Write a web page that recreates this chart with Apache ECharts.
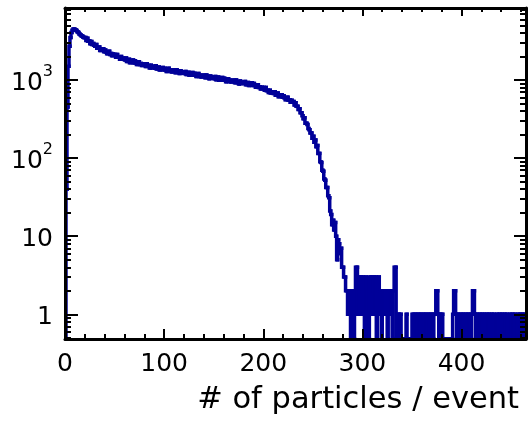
<!DOCTYPE html>
<html><head><meta charset="utf-8">
<script src="https://cdn.jsdelivr.net/npm/echarts@6/dist/echarts.min.js"></script>
<style>html,body{margin:0;padding:0;background:#fff}#c{width:530px;height:425px}</style>
</head><body><div id="c"></div>
<script>
// Histogram: bins of width 1 starting at 0
const binStart = 0;
const binWidth = 1;
const counts = [
0, 40, 450, 1500, 2700, 3500, 4050, 4350, 4500, 4480,
4400, 4300, 4150, 4060, 3890, 3810, 3680, 3640, 3520, 3490,
3500, 3200, 3420, 3130, 3160, 2910, 3120, 2840, 2940, 2790,
2700, 2840, 2550, 2630, 2650, 2380, 2520, 2410, 2520, 2300,
2430, 2290, 2170, 2320, 2330, 2120, 2180, 2050, 2150, 2090,
2120, 1960, 2120, 1950, 1990, 1850, 2000, 1840, 1920, 1840,
1800, 1910, 1730, 1800, 1840, 1670, 1780, 1710, 1800, 1650,
1760, 1660, 1580, 1700, 1720, 1580, 1630, 1540, 1620, 1580,
1610, 1490, 1620, 1500, 1530, 1430, 1550, 1440, 1500, 1450,
1420, 1520, 1380, 1440, 1470, 1340, 1430, 1380, 1450, 1340,
1420, 1350, 1290, 1390, 1410, 1300, 1340, 1270, 1340, 1310,
1340, 1240, 1350, 1260, 1290, 1210, 1310, 1220, 1280, 1230,
1210, 1290, 1180, 1230, 1260, 1150, 1230, 1180, 1250, 1150,
1220, 1160, 1110, 1190, 1210, 1110, 1150, 1090, 1150, 1130,
1150, 1070, 1160, 1080, 1110, 1040, 1130, 1050, 1100, 1060,
1040, 1110, 1010, 1060, 1090, 990, 1060, 1020, 1080, 990,
1050, 1000, 950, 1030, 1040, 960, 990, 940, 990, 970,
990, 920, 1000, 930, 950, 890, 970, 900, 940, 910,
900, 960, 870, 910, 930, 850, 910, 880, 920, 850,
900, 850, 810, 870, 870, 800, 820, 770, 810, 790,
800, 740, 800, 730, 740, 690, 740, 680, 710, 680,
670, 710, 640, 670, 680, 610, 650, 620, 650, 600,
630, 590, 560, 600, 600, 550, 560, 520, 550, 520,
530, 480, 510, 460, 460, 420, 430, 380, 380, 350,
320, 330, 280, 280, 270, 240, 230, 210, 210, 180,
190, 160, 170, 140, 145, 115, 115, 90, 88, 70,
68, 54, 52, 42, 42, 33, 31, 21, 19, 14,
16, 12, 15, 10, 5, 9, 8, 6, 7, 4,
4, 3, 3, 2, 2, 1, 2, 1, 0, 2,
1, 0, 2, 4, 4, 1, 3, 1, 3, 2,
3, 1, 0, 3, 1, 2, 0, 3, 1, 3,
2, 3, 1, 3, 0, 2, 3, 1, 2, 0,
2, 1, 2, 1, 2, 0, 2, 1, 2, 1,
0, 2, 4, 4, 0, 1, 1, 0, 1, 0,
0, 0, 0, 0, 1, 0, 0, 0, 0, 0,
1, 0, 1, 1, 0, 1, 1, 0, 1, 0,
1, 1, 0, 1, 0, 1, 1, 0, 1, 0,
1, 0, 1, 1, 2, 2, 1, 0, 1, 0,
1, 0, 0, 0, 0, 0, 0, 0, 0, 0,
0, 1, 2, 2, 1, 0, 1, 0, 1, 1,
0, 1, 0, 1, 1, 0, 1, 0, 1, 0,
1, 2, 2, 1, 0, 1, 0, 1, 1, 0,
1, 0, 1, 0, 1, 1, 0, 1, 0, 1,
1, 0, 1, 0, 0, 1, 0, 1, 1, 0,
1, 0, 1, 1, 0, 1, 0, 0, 1, 0,
1, 1, 0, 1, 0, 0, 1, 0, 1, 0,
1, 0, 1, 0, 1
];
const xRange = [0, 465];
const yRange = [0.483, 8360];
const xMajorTicks = [0, 100, 200, 300, 400];
const xMinorTicks = [20, 40, 60, 80, 120, 140, 160, 180, 220, 240, 260, 280, 320, 340, 360, 380, 420, 440, 460];
const yMajorTicks = [1, 10, 100, 1000];
const yMinorTicks = [0.5, 0.6, 0.7, 0.8, 0.9, 2, 3, 4, 5, 6, 7, 8, 9, 20, 30, 40, 50, 60, 70, 80, 90,
  200, 300, 400, 500, 600, 700, 800, 900, 2000, 3000, 4000, 5000, 6000, 7000, 8000];
const xTitle = '# of particles / event';

const FONT = 'DejaVu Sans';
const BLACK = '#000';
const HIST_COLOR = '#000099';

// one item per bin: [lowEdge, highEdge, previous bin content, bin content]; empty bins sit on the axis floor
const floorOf = c => (c > 0 ? c : yRange[0]);
const stepItems = counts.map((c, i) => [
  binStart + i * binWidth,
  binStart + (i + 1) * binWidth,
  floorOf(i === 0 ? 0 : counts[i - 1]),
  floorOf(c)
]);

function mkX(pos, ticks, len, showLine, labels) {
  return {
    type: 'value', position: pos, min: xRange[0], max: xRange[1], gridIndex: 0, z: 5, offset: 0,
    axisLine: { show: showLine, onZero: false, lineStyle: { color: BLACK, width: 3 } },
    axisTick: { show: true, inside: true, length: len, customValues: ticks, lineStyle: { color: BLACK, width: 2 } },
    axisLabel: labels ? { show: true, customValues: ticks, fontFamily: FONT, fontSize: 25, color: BLACK, margin: 13 } : { show: false },
    splitLine: { show: false }, minorTick: { show: false }
  };
}
function mkY(pos, ticks, len, showLine, labels) {
  return {
    type: 'log', logBase: 10, position: pos, min: yRange[0], max: yRange[1], gridIndex: 0, z: 5, offset: 0,
    axisLine: { show: showLine, onZero: false, lineStyle: { color: BLACK, width: 3 } },
    axisTick: { show: true, inside: true, length: len, customValues: ticks, lineStyle: { color: BLACK, width: 2 } },
    axisLabel: labels ? {
      show: true, customValues: ticks, fontFamily: FONT, fontSize: 25, color: BLACK, margin: 12,
      formatter: function (v) {
        const e = Math.round(Math.log10(v));
        if (e === 0) return '{b|1}';
        if (e === 1) return '{b|10}';
        return '{b|10}{s|' + e + '}';
      },
      rich: {
        b: { fontFamily: FONT, fontSize: 25, color: BLACK, padding: [7, 0, 0, 0] },
        s: { fontFamily: FONT, fontSize: 16, color: BLACK, verticalAlign: 'top', padding: [0, 0, 0, 0] }
      }
    } : { show: false },
    splitLine: { show: false }, minorTick: { show: false }
  };
}

const chart = echarts.init(document.getElementById('c'), null, { renderer: 'canvas' });
chart.setOption({
  animation: false,
  backgroundColor: '#fff',
  title: {
    text: xTitle, right: 6, top: 380,
    textStyle: { fontFamily: FONT, fontSize: 30.5, fontWeight: 'normal', color: BLACK }
  },
  grid: { left: 65, right: 4, top: 8, bottom: 86, containLabel: false },
  xAxis: [
    mkX('bottom', xMajorTicks, 10, true, true),
    mkX('bottom', xMinorTicks, 5, false, false),
    mkX('top', xMajorTicks, 8, true, false),
    mkX('top', xMinorTicks, 4, false, false)
  ],
  yAxis: [
    mkY('left', yMajorTicks, 13, true, true),
    mkY('left', yMinorTicks, 6, false, false),
    mkY('right', yMajorTicks, 12, true, false),
    mkY('right', yMinorTicks, 6, false, false)
  ],
  series: [{
    type: 'custom', xAxisIndex: 0, yAxisIndex: 0, clip: true, z: 2,
    encode: { x: [0, 1], y: [2, 3] },
    data: stepItems,
    renderItem: function (params, api) {
      const lo = api.value(0), hi = api.value(1), prev = api.value(2), cur = api.value(3);
      const a = api.coord([lo, prev]);
      const b = api.coord([lo, cur]);
      const c = api.coord([hi, cur]);
      return {
        type: 'polyline',
        shape: { points: [a, b, c] },
        style: { stroke: HIST_COLOR, lineWidth: 3.5, fill: null, lineJoin: 'miter', lineCap: 'square' }
      };
    }
  }]
});
</script></body></html>
